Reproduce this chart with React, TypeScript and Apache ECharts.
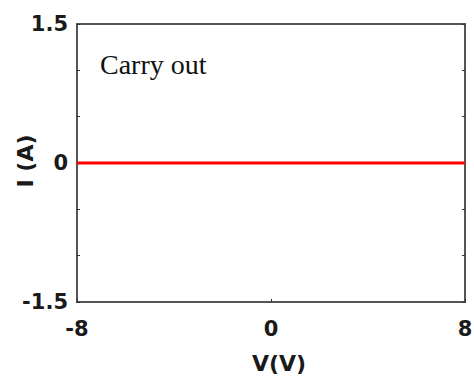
import React, { useEffect, useRef } from "react";
import * as echarts from "echarts";

const voltage: number[] = [-8, -4, 0, 4, 8];
const current: number[] = [0, 0, 0, 0, 0];
const yLabelValues: number[] = [-1.5, 0, 1.5];
const annotation = "Carry out";
const xName = "V(V)";
const yName = "I (A)";

export default function App() {
  const ref = useRef<HTMLDivElement>(null);
  useEffect(() => {
    if (!ref.current) return;
    const chart = echarts.init(ref.current, undefined, { renderer: "svg" });
    const labelFont = {
      fontFamily: "DejaVu Sans",
      fontWeight: "bold" as const,
      fontSize: 21,
      color: "#1a1a1a",
    };
    chart.setOption({
      animation: false,
      backgroundColor: "#ffffff",
      grid: {
        left: 77,
        right: 9,
        top: 24,
        bottom: 77,
        outerBoundsMode: "none",
        containLabel: false,
        show: true,
        borderColor: "#555555",
        borderWidth: 2,
        backgroundColor: "transparent",
      },
      xAxis: [
        {
          type: "value",
          min: -8,
          max: 8,
          interval: 8,
          axisLine: { show: true, onZero: false, lineStyle: { color: "#555555", width: 2 } },
          axisTick: { show: true, inside: true, length: 3, lineStyle: { color: "#333333" } },
          axisLabel: { ...labelFont, margin: 16 },
          splitLine: { show: false },
        },
      ],
      yAxis: [
        {
          type: "value",
          min: -1.5,
          max: 1.5,
          interval: 0.5,
          axisLine: { show: true, onZero: false, lineStyle: { color: "#555555", width: 2 } },
          axisTick: { show: true, inside: true, length: 3, lineStyle: { color: "#333333" } },
          axisLabel: {
            ...labelFont,
            margin: 9,
            formatter: (v: number) =>
              yLabelValues.some((t) => Math.abs(t - v) < 1e-9) ? String(v) : "",
          },
          splitLine: { show: false },
        },
        {
          type: "value",
          position: "right",
          min: -1.5,
          max: 1.5,
          interval: 0.5,
          axisLine: { show: true, onZero: false, lineStyle: { color: "#555555", width: 2 } },
          axisTick: { show: true, inside: true, length: 3, lineStyle: { color: "#333333" } },
          axisLabel: { show: false },
          splitLine: { show: false },
        },
      ],
      graphic: [
        {
          type: "text",
          x: 100,
          y: 64,
          style: {
            text: annotation,
            fontFamily: "Liberation Serif",
            fontSize: 28,
            fill: "#111111",
            verticalAlign: "middle",
            align: "left",
          },
        },
        {
          type: "text",
          x: 279,
          y: 363,
          style: {
            text: xName,
            fontFamily: "DejaVu Sans",
            fontWeight: "bold",
            fontSize: 22,
            fill: "#1a1a1a",
            align: "center",
            verticalAlign: "middle",
          },
        },
        {
          type: "text",
          x: 25,
          y: 161,
          rotation: Math.PI / 2,
          style: {
            text: yName,
            fontFamily: "DejaVu Sans",
            fontWeight: "bold",
            fontSize: 22,
            fill: "#1a1a1a",
            align: "center",
            verticalAlign: "middle",
          },
        },
      ],
      series: [
        {
          type: "line",
          data: voltage.map((v, i) => [v, current[i]]),
          showSymbol: false,
          lineStyle: { color: "#ff0000", width: 3 },
          itemStyle: { color: "#ff0000" },
        },
      ],
    });
    return () => chart.dispose();
  }, []);
  return (
    <div
      ref={ref}
      style={{ position: "absolute", left: 0, top: 0, width: 474, height: 379 }}
    />
  );
}
